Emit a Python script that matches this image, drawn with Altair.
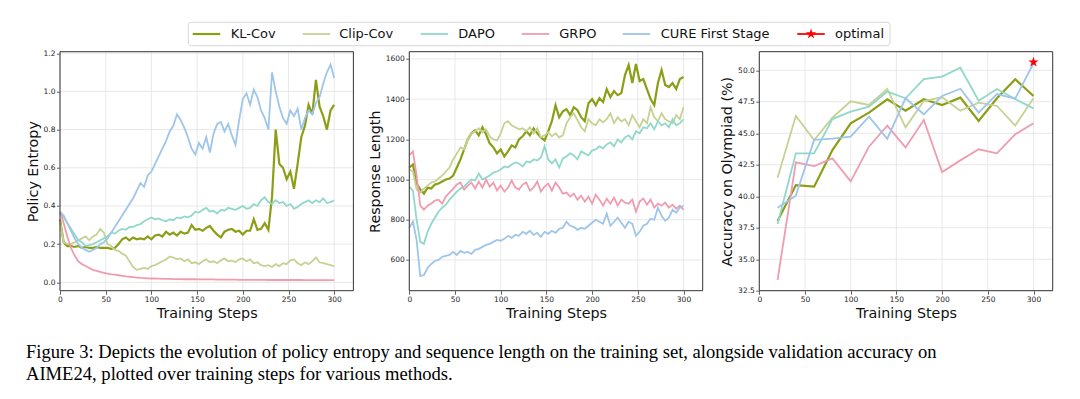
import altair as alt
import pandas as pd

methods = ["KL-Cov", "Clip-Cov", "DAPO", "GRPO", "CURE First Stage"]
legend_names = methods + ["optimal"]
colors = ["#8c9e15", "#c6d293", "#91d8ca", "#f09cb0", "#9ec5ea", "#ff0000"]

steps = list(range(0, 301, 4))

ent_kl = [0.33, 0.21, 0.19, 0.19, 0.185, 0.19, 0.18, 0.185, 0.18, 0.18, 0.185, 0.18, 0.18, 0.18, 0.175, 0.18,
          0.20, 0.225, 0.235, 0.22, 0.235, 0.225, 0.23, 0.225, 0.24, 0.225, 0.245, 0.25, 0.24, 0.265, 0.25, 0.26,
          0.245, 0.265, 0.255, 0.26, 0.30, 0.275, 0.28, 0.27, 0.285, 0.295, 0.27, 0.25, 0.235, 0.265, 0.275, 0.28,
          0.265, 0.27, 0.25, 0.27, 0.27, 0.33, 0.275, 0.28, 0.31, 0.275, 0.45, 0.80, 0.62, 0.60, 0.54, 0.58, 0.49,
          0.62, 0.76, 0.82, 0.93, 0.88, 1.06, 0.92, 0.87, 0.80, 0.90, 0.93]
ent_clip = [0.32, 0.21, 0.20, 0.20, 0.21, 0.22, 0.23, 0.24, 0.22, 0.24, 0.25, 0.28, 0.26, 0.20, 0.19, 0.17,
            0.165, 0.15, 0.14, 0.11, 0.08, 0.065, 0.07, 0.075, 0.07, 0.085, 0.09, 0.10, 0.11, 0.12, 0.135, 0.13,
            0.12, 0.125, 0.11, 0.12, 0.10, 0.105, 0.095, 0.11, 0.12, 0.105, 0.11, 0.10, 0.115, 0.125, 0.11, 0.115,
            0.105, 0.12, 0.125, 0.11, 0.12, 0.10, 0.105, 0.09, 0.085, 0.09, 0.08, 0.095, 0.085, 0.10, 0.095, 0.115,
            0.12, 0.10, 0.09, 0.105, 0.095, 0.11, 0.13, 0.105, 0.10, 0.095, 0.09, 0.085]
ent_dapo = [0.36, 0.34, 0.31, 0.28, 0.25, 0.22, 0.21, 0.19, 0.195, 0.20, 0.21, 0.22, 0.23, 0.24, 0.26, 0.255,
            0.27, 0.28, 0.275, 0.29, 0.29, 0.30, 0.305, 0.32, 0.33, 0.34, 0.33, 0.335, 0.325, 0.32, 0.33, 0.325,
            0.34, 0.335, 0.345, 0.34, 0.35, 0.37, 0.365, 0.38, 0.39, 0.37, 0.375, 0.36, 0.38, 0.375, 0.39, 0.385,
            0.38, 0.39, 0.40, 0.385, 0.39, 0.41, 0.40, 0.43, 0.445, 0.42, 0.41, 0.43, 0.415, 0.42, 0.40, 0.41,
            0.385, 0.395, 0.41, 0.42, 0.43, 0.415, 0.43, 0.42, 0.44, 0.415, 0.42, 0.43]
ent_grpo = [0.37, 0.31, 0.24, 0.18, 0.14, 0.11, 0.095, 0.085, 0.075, 0.065, 0.06, 0.055, 0.05, 0.045, 0.042, 0.04,
            0.037, 0.034, 0.031, 0.029, 0.027, 0.025, 0.023, 0.022, 0.021, 0.02, 0.02, 0.019, 0.018, 0.018, 0.018,
            0.017, 0.017, 0.017, 0.016, 0.016, 0.016, 0.016, 0.015, 0.015, 0.015, 0.015, 0.015, 0.014, 0.014, 0.014,
            0.014, 0.014, 0.014, 0.013, 0.013, 0.013, 0.013, 0.013, 0.013, 0.013, 0.013, 0.012, 0.012, 0.012, 0.012,
            0.012, 0.012, 0.012, 0.012, 0.012, 0.012, 0.011, 0.011, 0.011, 0.011, 0.011, 0.011, 0.011, 0.011, 0.011]
ent_cure = [0.37, 0.35, 0.31, 0.27, 0.23, 0.20, 0.18, 0.17, 0.16, 0.17, 0.18, 0.20, 0.21, 0.23, 0.26, 0.29,
            0.32, 0.35, 0.38, 0.41, 0.44, 0.48, 0.52, 0.50, 0.56, 0.58, 0.62, 0.66, 0.70, 0.74, 0.79, 0.82,
            0.88, 0.85, 0.81, 0.76, 0.70, 0.67, 0.73, 0.70, 0.76, 0.68, 0.78, 0.83, 0.84, 0.79, 0.83, 0.77,
            0.72, 0.85, 0.96, 0.99, 0.93, 1.01, 0.97, 0.90, 0.86, 0.80, 1.10, 1.00, 0.92, 0.86, 0.83, 0.90,
            0.87, 0.91, 0.80, 0.86, 0.90, 0.88, 0.94, 0.97, 1.04, 1.10, 1.14, 1.07]

len_kl = [1060, 1075, 980, 950, 930, 960, 955, 975, 980, 990, 1000, 1005, 1020, 1060, 1100, 1150,
          1200, 1230, 1245, 1220, 1260, 1225, 1180, 1160, 1130, 1150, 1115, 1140, 1170, 1160, 1200, 1215,
          1240, 1220, 1255, 1230, 1210, 1195, 1240, 1290, 1370, 1310, 1340, 1350, 1320, 1360, 1345, 1310,
          1290, 1380, 1400, 1370, 1405, 1385, 1450, 1410, 1440, 1420, 1430, 1520, 1570, 1480, 1575, 1490,
          1500, 1450, 1400, 1370, 1480, 1545, 1470, 1460, 1480, 1450, 1500, 1510]
len_clip = [1050, 1040, 950, 935, 955, 970, 985, 990, 1005, 1020, 1040, 1060, 1100, 1130, 1160, 1150,
            1200, 1230, 1240, 1255, 1235, 1250, 1215, 1200, 1195, 1230, 1280, 1290, 1270, 1260, 1250, 1255,
            1240, 1260, 1230, 1255, 1210, 1220, 1235, 1215, 1230, 1210, 1220, 1280, 1310, 1330, 1295, 1260,
            1240, 1300, 1280, 1270, 1300, 1285, 1300, 1330, 1280, 1310, 1290, 1300, 1270, 1320, 1290, 1260,
            1300, 1280, 1360, 1310, 1290, 1330, 1300, 1290, 1280, 1320, 1300, 1360]
len_dapo = [965, 945, 800, 690, 680, 740, 780, 810, 840, 860, 875, 900, 920, 940, 955, 965,
            985, 1000, 995, 1030, 1000, 1010, 1020, 1035, 1040, 1050, 1065, 1060, 1075, 1085, 1080, 1065,
            1090, 1085, 1100, 1095, 1110, 1165, 1100, 1080, 1100, 1060, 1105, 1115, 1130, 1120, 1100, 1140,
            1130, 1120, 1145, 1150, 1165, 1155, 1175, 1185, 1165, 1200, 1185, 1210, 1220, 1200, 1240, 1230,
            1260, 1255, 1280, 1250, 1290, 1270, 1280, 1260, 1300, 1270, 1280, 1300]
len_grpo = [1120, 1140, 1020, 870, 850, 870, 880, 895, 900, 880, 915, 935, 955, 975, 985, 950,
            970, 985, 955, 990, 960, 1000, 965, 985, 945, 970, 940, 960, 995, 960, 950, 975,
            985, 945, 960, 990, 940, 965, 980, 945, 985, 960, 930, 935, 915, 930, 900, 920,
            890, 915, 880, 925, 900, 870, 905, 880, 910, 870, 900, 885, 880, 900, 840, 890,
            905, 875, 900, 860, 880, 870, 885, 860, 875, 855, 870, 850]
len_cure = [760, 790, 700, 520, 525, 560, 580, 595, 600, 615, 620, 625, 640, 625, 645, 635,
            640, 630, 650, 655, 665, 675, 680, 690, 700, 695, 705, 720, 710, 725, 720, 740,
            730, 745, 725, 735, 715, 740, 730, 745, 735, 755, 760, 790, 770, 765, 750, 760,
            755, 770, 785, 800, 790, 780, 830, 770, 790, 810, 785, 760, 790, 780, 720, 740,
            770, 780, 805, 800, 860, 820, 795, 810, 850, 835, 860, 870]

acc_steps = list(range(20, 301, 20))
acc_kl = [38.03, 40.89, 40.76, 43.67, 45.79, 46.64, 47.70, 46.80, 47.70, 47.25, 47.83, 45.98, 47.78, 49.29, 47.96]
acc_clip = [41.47, 46.37, 44.47, 46.24, 47.54, 47.25, 48.52, 45.47, 47.56, 47.86, 46.80, 47.43, 47.17, 45.61, 47.78]
acc_dapo = [37.79, 43.41, 43.41, 46.13, 46.72, 47.11, 48.31, 47.78, 49.31, 49.50, 50.21, 47.59, 48.52, 47.72, 46.98]
acc_grpo = [33.35, 42.69, 42.40, 43.01, 41.18, 43.94, 45.61, 43.88, 46.06, 41.92, 42.85, 43.73, 43.41, 44.92, 45.79]
acc_cure = [39.09, 40.05, 44.47, 44.57, 44.73, 46.32, 44.57, 47.78, 46.51, 47.96, 48.54, 46.64, 48.12, 47.75, 50.56]

optimal_step = [300]
optimal_acc = [50.65]

x_ticks = [0, 50, 100, 150, 200, 250, 300]
ent_ticks = [0.0, 0.2, 0.4, 0.6, 0.8, 1.0, 1.2]
len_ticks = [600, 800, 1000, 1200, 1400, 1600]
acc_ticks = [32.5, 35.0, 37.5, 40.0, 42.5, 45.0, 47.5, 50.0]

caption = [
    "Figure 3: Depicts the evolution of policy entropy and sequence length on the training set, alongside validation accuracy on",
    "AIME24, plotted over training steps for various methods.",
]

# five-pointed star as a custom symbol path (Vega has no built-in "star" shape)
STAR = ("M0,-1L0.2245,-0.309L0.951,-0.309L0.363,0.118L0.588,0.809L0,0.382"
        "L-0.588,0.809L-0.363,0.118L-0.951,-0.309L-0.2245,-0.309Z")


def long_df(step_list, series):
    rows = []
    for m, vals in zip(methods, series):
        for s, v in zip(step_list, vals):
            rows.append({"step": int(s), "value": float(v), "method": m})
    return pd.DataFrame(rows)


df_ent = long_df(steps, [ent_kl, ent_clip, ent_dapo, ent_grpo, ent_cure])
df_len = long_df(steps, [len_kl, len_clip, len_dapo, len_grpo, len_cure])
df_acc = long_df(acc_steps, [acc_kl, acc_clip, acc_dapo, acc_grpo, acc_cure])
df_opt = pd.DataFrame({"step": optimal_step, "value": optimal_acc})

# layout of the three panels inside one view (pixels)
PW = 293.4
panel_left = [0.0, 349.3, 699.3]
TOTAL_W = 992.7
H = 239
XDOM = [0, 321]

color_enc = alt.Color("method:N", scale=alt.Scale(domain=legend_names, range=colors), legend=None)


def panel_layers(k, df, ytitle, ydom, yticks, fmt):
    xsc = alt.Scale(domain=XDOM, range=[panel_left[k], panel_left[k] + PW], nice=False, zero=False)
    ysc = alt.Scale(domain=ydom, nice=False, zero=False)
    x_axis = alt.Axis(orient="bottom", values=x_ticks, format="d", title="Training Steps", grid=False)
    y_axis = alt.Axis(orient="left", offset=-panel_left[k], values=yticks, format=fmt, title=ytitle, grid=False)

    vgrid = alt.Chart(pd.DataFrame({"step": x_ticks, "lo": ydom[0], "hi": ydom[1]})).mark_rule(
        color="#e3e3e3", strokeWidth=0.8).encode(
        x=alt.X("step:Q", scale=xsc, axis=None),
        y=alt.Y("lo:Q", scale=ysc, axis=None), y2="hi:Q")
    hgrid = alt.Chart(pd.DataFrame({"value": yticks, "x0": XDOM[0], "x1": XDOM[1]})).mark_rule(
        color="#e3e3e3", strokeWidth=0.8).encode(
        y=alt.Y("value:Q", scale=ysc, axis=None),
        x=alt.X("x0:Q", scale=xsc, axis=None), x2="x1:Q")
    kl = alt.Chart(df).transform_filter(alt.datum.method == "KL-Cov").mark_line(strokeWidth=2.2).encode(
        x=alt.X("step:Q", scale=xsc, axis=x_axis),
        y=alt.Y("value:Q", scale=ysc, axis=y_axis),
        color=color_enc)
    rest = alt.Chart(df).transform_filter(alt.datum.method != "KL-Cov").mark_line(strokeWidth=1.8).encode(
        x=alt.X("step:Q", scale=xsc, axis=None),
        y=alt.Y("value:Q", scale=ysc, axis=None),
        color=color_enc)
    frame = alt.Chart(pd.DataFrame({"x0": [XDOM[0]], "x1": [XDOM[1]], "lo": [ydom[0]], "hi": [ydom[1]]})).mark_rect(
        fill="transparent", stroke="#333", strokeWidth=1).encode(
        x=alt.X("x0:Q", scale=xsc, axis=None), x2="x1:Q",
        y=alt.Y("lo:Q", scale=ysc, axis=None), y2="hi:Q")
    return [vgrid, hgrid, kl, rest, frame], xsc, ysc


l1, _, _ = panel_layers(0, df_ent, "Policy Entropy", [-0.044, 1.208], ent_ticks, ".1f")
l2, _, _ = panel_layers(1, df_len, "Response Length", [447, 1636], len_ticks, "d")
l3, xsc3, ysc3 = panel_layers(2, df_acc, "Accuracy on Olympiad (%)", [32.5, 51.48], acc_ticks, ".1f")

star = alt.Chart(df_opt).mark_point(filled=True, color="red", size=120, opacity=1, shape=STAR).encode(
    x=alt.X("step:Q", scale=xsc3, axis=None),
    y=alt.Y("value:Q", scale=ysc3, axis=None),
)

# legend drawn with marks (box, line samples, labels) above the panels
LEG_Y = -17.7
seg_start = [132.7, 242.7, 360.7, 461.7, 562.7, 737.3]
label_start = [170.7, 279.3, 398.3, 499.3, 600.7, 775.0]
legend_layers = [
    alt.Chart(pd.DataFrame({"k": [0]})).mark_rect(
        fill="white", stroke="#d6d6d6", strokeWidth=1, cornerRadius=3).encode(
        x=alt.value(128.3), x2=alt.value(830.0), y=alt.value(-29.4), y2=alt.value(-6.0))
]
for i, name in enumerate(legend_names):
    one = pd.DataFrame({"label": [name]})
    legend_layers.append(
        alt.Chart(one).mark_rule(color=colors[i], strokeWidth=2.2 if i == 0 else 1.8).encode(
            x=alt.value(seg_start[i]), x2=alt.value(seg_start[i] + 27.5), y=alt.value(LEG_Y)))
    legend_layers.append(
        alt.Chart(one).mark_text(align="left", baseline="middle", font="DejaVu Sans", fontSize=13,
                                 color="#111").encode(
            x=alt.value(label_start[i]), y=alt.value(LEG_Y), text="label:N"))
legend_layers.append(
    alt.Chart(pd.DataFrame({"label": ["optimal"]})).mark_point(
        shape=STAR, filled=True, color="red", size=120, opacity=1).encode(
        x=alt.value(seg_start[5] + 13.75), y=alt.value(LEG_Y)))

chart = alt.layer(*l1, *l2, *l3, star, *legend_layers).resolve_scale(
    x="independent", y="independent"
).properties(
    width=TOTAL_W, height=H,
    autosize=alt.AutoSizeParams(type="none"),
    padding={"left": 52, "top": 43.7, "right": 10, "bottom": 96.3},
    title=alt.TitleParams(
        text=caption, orient="bottom", anchor="start", frame="group", dx=-34,
        font="Liberation Serif", fontSize=18.6, fontWeight="normal", color="black",
        lineHeight=22, offset=23,
    ),
).configure_view(
    stroke=None
).configure_axis(
    domain=False,
    tickColor="#333", tickSize=3.5, tickWidth=0.8,
    labelFont="DejaVu Sans", labelFontSize=7.5, labelColor="#222", labelPadding=1.5,
    labelFlush=False, labelOverlap=False,
    titleFont="DejaVu Sans", titleFontSize=14.3, titleFontWeight="normal", titleColor="#111",
    titlePadding=3,
)

chart.save("out.html", embed_options={"renderer": "svg", "actions": False})
